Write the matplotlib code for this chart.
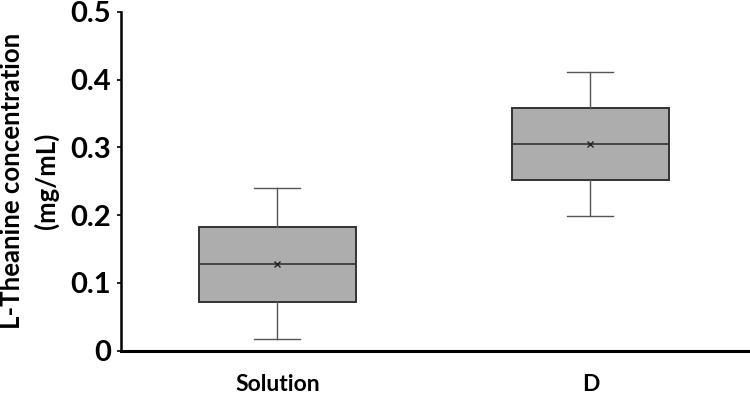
import matplotlib
matplotlib.use("Agg")
import matplotlib.pyplot as plt

# values (mg/mL)
groups = ["Solution", "D"]
q1 = [0.072, 0.252]
med = [0.128, 0.305]
q3 = [0.183, 0.358]
whislo = [0.017, 0.198]
whishi = [0.240, 0.411]
means = [0.128, 0.305]
yticks = [0, 0.1, 0.2, 0.3, 0.4, 0.5]
ytick_labels = ["0", "0.1", "0.2", "0.3", "0.4", "0.5"]

plt.rcParams['font.family'] = ['Lato', 'DejaVu Sans']

fig = plt.figure(figsize=(7.5, 3.96), dpi=100)
ax = fig.add_axes([0.161, 0.1144, 0.839, 0.856])

stats = []
for i in range(len(groups)):
    stats.append(dict(label=groups[i], q1=q1[i], med=med[i], q3=q3[i],
                      whislo=whislo[i], whishi=whishi[i], mean=means[i], fliers=[]))

ax.bxp(stats, positions=[1, 2], widths=0.5, patch_artist=True, showmeans=True,
       showfliers=False,
       boxprops=dict(facecolor="#adadad", edgecolor="#333333", linewidth=1.4),
       medianprops=dict(color="#333333", linewidth=1.2),
       whiskerprops=dict(color="#555555", linewidth=1.0),
       capprops=dict(color="#555555", linewidth=1.0),
       capwidths=0.147,
       meanprops=dict(marker="x", markeredgecolor="#222222", markersize=5, markeredgewidth=1.0))

ax.set_xlim(0.5, 2.51)
ax.set_ylim(0, 0.5)
ax.set_yticks(yticks)
ax.set_yticklabels(ytick_labels, fontsize=21, fontweight="bold")
ax.set_xticks([1, 2])
ax.set_xticklabels(groups, fontsize=16.5, fontweight="bold")
ax.tick_params(axis="x", length=0, pad=17)
ax.tick_params(axis="y", length=3, width=1.2, pad=4)

ax.set_ylabel("L-Theanine concentration\n(mg/mL)", fontsize=18.5, fontweight="bold",
              linespacing=1.45, labelpad=8)

for s in ["top", "right"]:
    ax.spines[s].set_visible(False)
ax.spines["left"].set_linewidth(1.8)
ax.spines["bottom"].set_linewidth(2.2)

fig.savefig("out.png", dpi=100)
